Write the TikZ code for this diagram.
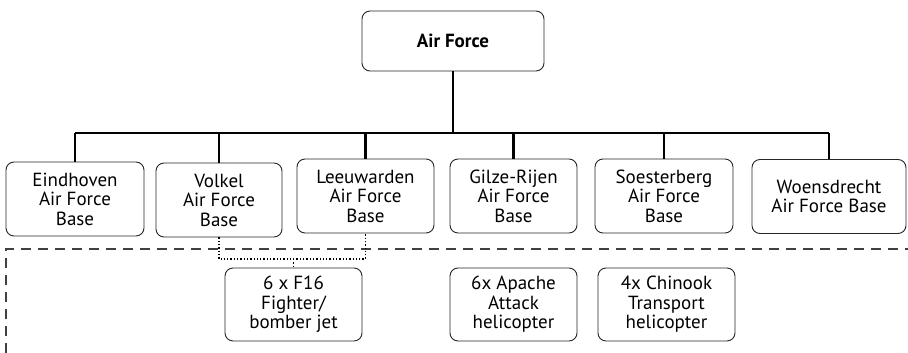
\documentclass[tikz,border=0pt]{standalone}
\usepackage{fontspec}
\setmainfont{PT Sans}
\begin{document}
\begin{tikzpicture}[x=1pt,y=-1pt,
  box/.style={draw=black!85, line width=0.9pt, rounded corners=8pt, align=center,
    font=\fontsize{19}{19.5}\selectfont, inner sep=0pt, text=black},
  conn/.style={line width=2.4pt, black},
  dotline/.style={line width=1.3pt, black, dotted},
  dashline/.style={line width=1.8pt, black!75, dash pattern=on 10pt off 7pt}]
\useasboundingbox (0,0) rectangle (908,353);
\node[box, minimum width=182pt, minimum height=60pt, font=\bfseries\fontsize{19}{19.5}\selectfont] (af) at (453,41) {Air Force};
\node[box, minimum width=138pt, minimum height=74pt] (ein) at (75,199) {Eindhoven\\Air Force\\Base};
\node[box, minimum width=126pt, minimum height=74pt] (vol) at (219,200) {Volkel\\Air Force\\Base};
\node[box, minimum width=137pt, minimum height=74pt] (lee) at (365.5,196) {Leeuwarden\\Air Force\\Base};
\node[box, minimum width=127pt, minimum height=74pt] (gil) at (513.5,196) {Gilze-Rijen\\Air Force\\Base};
\node[box, minimum width=138pt, minimum height=74pt] (soe) at (664,196) {Soesterberg\\Air Force\\Base};
\node[box, minimum width=154pt, minimum height=74pt] (woe) at (829,196.5) {Woensdrecht\\Air Force Base};
\node[box, minimum width=137pt, minimum height=73pt] (f16) at (293.5,304.5) {6 x F16\\Fighter/\\bomber jet};
\node[box, minimum width=127pt, minimum height=73pt] (apa) at (513.5,304.5) {6x Apache\\Attack\\helicopter};
\node[box, minimum width=137pt, minimum height=73pt] (chi) at (666.5,304.5) {4x Chinook\\Transport\\helicopter};
% bus
\coordinate (bus) at (0,133);
\draw[conn] (af.south) -- (af.south |- bus);
\draw[conn] (ein.north |- bus) -- (woe.north |- bus);
\foreach \n in {ein,vol,lee,gil,soe,woe}{
  \draw[conn] (\n.north |- bus) -- (\n.north);
}
% dashed region
\coordinate (d1) at (6,353);
\coordinate (d2) at (6,249);
\coordinate (d3) at (908,249);
\draw[dashline] (d1) -- (d2) -- (d3);
% dotted links
\coordinate (dl) at (0,259);
\draw[dotline] (vol.south) -- (vol.south |- dl) -- (lee.south |- dl) -- (lee.south);
\draw[dotline] (f16.north |- dl) -- (f16.north);
\end{tikzpicture}
\end{document}
